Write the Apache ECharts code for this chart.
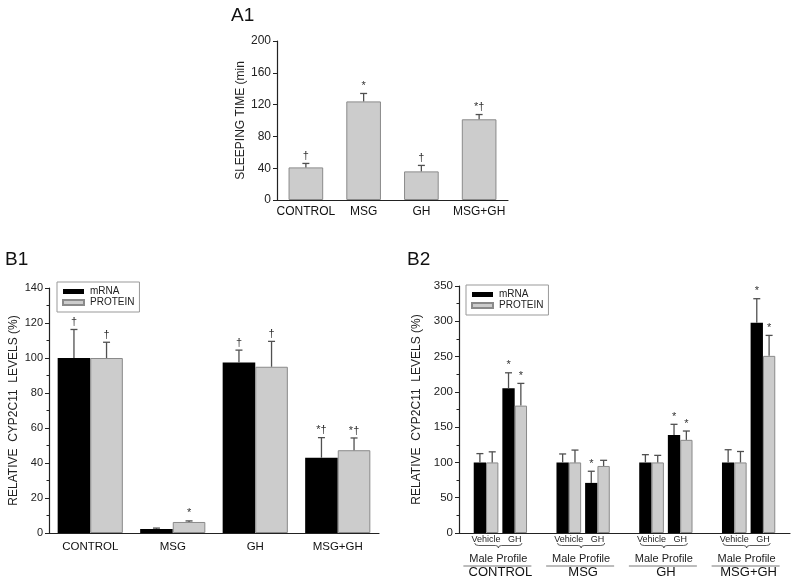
<!DOCTYPE html>
<html>
<head>
<meta charset="utf-8">
<script src="https://cdn.jsdelivr.net/npm/echarts@6/dist/echarts.min.js"></script>
<style>html,body{margin:0;padding:0;background:#fff}#c{width:795px;height:586px}</style>
</head>
<body>
<div id="c"></div>
<script>
// ---- Data ----
const groups = ['CONTROL', 'MSG', 'GH', 'MSG+GH'];

// A1: sleeping time (min)
const a1Mean = [41, 124, 36, 101.5];
const a1Sem = [5, 10, 7.5, 6];
const a1Marks = ['†', '*', '†', '*†'];
const a1Ticks = [0, 40, 80, 120, 160, 200];

// B1: relative CYP2C11 levels (%)
const b1Mrna = [100, 2.3, 97.5, 43];
const b1MrnaSem = [16.3, 0.5, 7, 11.5];
const b1MrnaMarks = ['†', '', '†', '*†'];
const b1Prot = [100, 6.3, 95, 47.3];
const b1ProtSem = [9, 0.6, 14.5, 7];
const b1ProtMarks = ['†', '*', '†', '*†'];

// B2: Male Profile, Vehicle vs GH
const b2VehMrna = [100, 100, 100, 100];
const b2VehMrnaSem = [12.5, 12, 11, 18];
const b2VehProt = [100, 100, 100, 100];
const b2VehProtSem = [15, 17.5, 10, 15.5];
const b2GhMrna = [205, 71, 139, 298];
const b2GhMrnaSem = [22, 16.5, 15, 34];
const b2GhProt = [180.5, 95, 132, 251];
const b2GhProtSem = [31.5, 8, 12.5, 29];
const b2GhMrnaMarks = ['*', '*', '*', '*'];
const b2GhProtMarks = ['*', '', '*', '*'];
const b2SubLabels = ['Vehicle', 'GH'];
const b2Profile = 'Male Profile';

// ---- Styles ----
const FONT = 'Liberation Sans, Arial, sans-serif';
const BLACK = '#000000';
const GREY = '#cccccc';
const GREY_BORDER = '#8a8a8a';
const ERR = '#505050';

const chart = echarts.init(document.getElementById('c'), null, {renderer: 'canvas'});

function errSeries(gi, means, sems, marks, offFrac) {
  return {
    type: 'custom', xAxisIndex: gi, yAxisIndex: gi, z: 5, silent: true,
    data: means.map((m, i) => [i, m, m + sems[i]]),
    renderItem: function (params, api) {
      const i = api.value(0);
      const p = api.coord([i, api.value(1)]);
      const t = api.coord([i, api.value(2)]);
      const band = api.size([1, 0])[0];
      const x = p[0] + offFrac * band;
      const cap = 3.5;
      const children = [
        {type: 'line', shape: {x1: x, y1: p[1], x2: x, y2: t[1]}, style: {stroke: ERR, lineWidth: 1.3}},
        {type: 'line', shape: {x1: x - cap, y1: t[1], x2: x + cap, y2: t[1]}, style: {stroke: ERR, lineWidth: 1.3}}
      ];
      const mk = marks[params.dataIndex];
      if (mk) {
        children.push({type: 'text', style: {text: mk, x: x, y: t[1] - 2, align: 'center', verticalAlign: 'bottom',
          fontSize: 11, fontFamily: FONT, fill: '#333'}});
      }
      return {type: 'group', children: children};
    }
  };
}

function yAx(gi, max, interval, name, gap, minor, fs) {
  return {
    type: 'value', gridIndex: gi, min: 0, max: max, interval: interval,
    name: name, nameLocation: 'middle', nameGap: gap, nameRotate: 90,
    nameTextStyle: {fontSize: 12, fontFamily: FONT, color: '#222'},
    axisLine: {show: true, lineStyle: {color: '#222', width: 1.2}},
    axisTick: {show: true, length: 4, lineStyle: {color: '#222'}},
    minorTick: {show: minor, splitNumber: 2, length: 2.5, lineStyle: {color: '#222'}},
    splitLine: {show: false},
    axisLabel: {fontSize: fs, fontFamily: FONT, color: '#222', margin: 6}
  };
}

function xAx(gi, margin, fs) {
  return {
    type: 'category', gridIndex: gi, data: groups,
    axisLine: {lineStyle: {color: '#222', width: 1.2}},
    axisTick: {show: false},
    axisLabel: {fontSize: fs, fontFamily: FONT, color: '#111', margin: margin, interval: 0}
  };
}

const greyStyle = {color: GREY, borderColor: GREY_BORDER, borderWidth: 1};
const blackStyle = {color: BLACK};

const b1W = 0.395;
const b2W = 0.149, b2S = 0.048;
const b2Half = (4 * b2W + b2S) / 2;
const b2Off = [-b2Half + b2W / 2, -b2Half + 1.5 * b2W, -b2Half + 2.5 * b2W + b2S, -b2Half + 3.5 * b2W + b2S];

function legendAt(left, top) {
  return {
    left: left, top: top, orient: 'vertical', data: ['mRNA', 'PROTEIN'], icon: 'rect',
    itemWidth: 21, itemHeight: 5, itemGap: 0, selectedMode: false,
    borderColor: '#999', borderWidth: 1, padding: [4, 5, 4, 5],
    textStyle: {fontSize: 10, lineHeight: 11, fontFamily: FONT, color: '#222', padding: [0, 0, 0, 1]}
  };
}

const option = {
  animation: false,
  backgroundColor: '#fff',
  textStyle: {fontFamily: FONT},
  title: [
    {text: 'A1', left: 231, top: 6, padding: 0, textStyle: {fontSize: 19, fontWeight: 'normal', color: '#111', fontFamily: FONT}},
    {text: 'B1', left: 5, top: 250, padding: 0, textStyle: {fontSize: 19, fontWeight: 'normal', color: '#111', fontFamily: FONT}},
    {text: 'B2', left: 407, top: 250, padding: 0, textStyle: {fontSize: 19, fontWeight: 'normal', color: '#111', fontFamily: FONT}}
  ],
  legend: [legendAt(57, 282), legendAt(466, 285)],
  grid: [
    {left: 277, top: 41, width: 231, height: 159, containLabel: false},
    {left: 49, top: 288, width: 330, height: 245, containLabel: false},
    {left: 459, top: 286, width: 331, height: 247, containLabel: false}
  ],
  xAxis: [xAx(0, 6, 12), xAx(1, 8, 11.5), xAx(2, 33, 13)],
  yAxis: [
    yAx(0, 200, 40, 'SLEEPING TIME (min', 30, false, 12),
    yAx(1, 140, 20, 'RELATIVE  CYP2C11  LEVELS (%)', 29, true, 11),
    yAx(2, 350, 50, 'RELATIVE  CYP2C11  LEVELS (%)', 36, true, 11.5)
  ],
  series: [
    // A1
    {type: 'bar', name: 'Sleeping time', xAxisIndex: 0, yAxisIndex: 0, barWidth: '60%', data: a1Mean, itemStyle: greyStyle},
    errSeries(0, a1Mean, a1Sem, a1Marks, 0),
    // B1
    {type: 'bar', name: 'mRNA', xAxisIndex: 1, yAxisIndex: 1, barWidth: (b1W * 100) + '%', barGap: '0%', data: b1Mrna, itemStyle: blackStyle},
    {type: 'bar', name: 'PROTEIN', xAxisIndex: 1, yAxisIndex: 1, barWidth: (b1W * 100) + '%', barGap: '0%', data: b1Prot, itemStyle: greyStyle},
    errSeries(1, b1Mrna, b1MrnaSem, b1MrnaMarks, -b1W / 2),
    errSeries(1, b1Prot, b1ProtSem, b1ProtMarks, b1W / 2),
    // B2
    {type: 'bar', name: 'mRNA', xAxisIndex: 2, yAxisIndex: 2, barWidth: (b2W * 100) + '%', barGap: '0%', data: b2VehMrna, itemStyle: blackStyle},
    {type: 'bar', name: 'PROTEIN', xAxisIndex: 2, yAxisIndex: 2, barWidth: (b2W * 100) + '%', barGap: '0%', data: b2VehProt, itemStyle: greyStyle},
    {type: 'bar', name: 'spacer', xAxisIndex: 2, yAxisIndex: 2, barWidth: (b2S * 100) + '%', barGap: '0%', data: groups.map(() => '-'), silent: true},
    {type: 'bar', name: 'mRNA', xAxisIndex: 2, yAxisIndex: 2, barWidth: (b2W * 100) + '%', barGap: '0%', data: b2GhMrna, itemStyle: blackStyle},
    {type: 'bar', name: 'PROTEIN', xAxisIndex: 2, yAxisIndex: 2, barWidth: (b2W * 100) + '%', barGap: '0%', data: b2GhProt, itemStyle: greyStyle},
    errSeries(2, b2VehMrna, b2VehMrnaSem, ['', '', '', ''], b2Off[0]),
    errSeries(2, b2VehProt, b2VehProtSem, ['', '', '', ''], b2Off[1]),
    errSeries(2, b2GhMrna, b2GhMrnaSem, b2GhMrnaMarks, b2Off[2]),
    errSeries(2, b2GhProt, b2GhProtSem, b2GhProtMarks, b2Off[3])
  ]
};
chart.setOption(option);

// B2 sub-labels: Vehicle / GH, brace, Male Profile, rule line
const y0 = chart.convertToPixel({yAxisIndex: 2}, 0);
const c0 = chart.convertToPixel({xAxisIndex: 2}, 0);
const c1 = chart.convertToPixel({xAxisIndex: 2}, 1);
const band = c1 - c0;
const gfx = [];
const braceStyle = {stroke: '#333', lineWidth: 0.8, fill: null};
groups.forEach((g, i) => {
  const cx = chart.convertToPixel({xAxisIndex: 2}, i);
  const vx = cx + (b2Off[0] + b2Off[1]) / 2 * band;
  const gx = cx + (b2Off[2] + b2Off[3]) / 2 * band;
  gfx.push({type: 'text', style: {text: b2SubLabels[0], x: vx, y: y0 + 7, align: 'center', verticalAlign: 'middle', fontSize: 9, fontFamily: FONT, fill: '#222'}});
  gfx.push({type: 'text', style: {text: b2SubLabels[1], x: gx, y: y0 + 7, align: 'center', verticalAlign: 'middle', fontSize: 9, fontFamily: FONT, fill: '#222'}});
  const x0 = cx - b2Half * band + 1, x1 = cx + b2Half * band - 5;
  const mid = (x0 + x1) / 2;
  const ya = y0 + 10, yb = y0 + 12.5, yc = y0 + 15;
  gfx.push({type: 'bezierCurve', shape: {x1: x0, y1: ya, x2: x0 + 4, y2: yb, cpx1: x0, cpy1: yb}, style: braceStyle});
  gfx.push({type: 'line', shape: {x1: x0 + 4, y1: yb, x2: mid - 3, y2: yb}, style: braceStyle});
  gfx.push({type: 'bezierCurve', shape: {x1: mid - 3, y1: yb, x2: mid, y2: yc, cpx1: mid, cpy1: yb}, style: braceStyle});
  gfx.push({type: 'bezierCurve', shape: {x1: mid, y1: yc, x2: mid + 3, y2: yb, cpx1: mid, cpy1: yb}, style: braceStyle});
  gfx.push({type: 'line', shape: {x1: mid + 3, y1: yb, x2: x1 - 4, y2: yb}, style: braceStyle});
  gfx.push({type: 'bezierCurve', shape: {x1: x1 - 4, y1: yb, x2: x1, y2: ya, cpx1: x1, cpy1: yb}, style: braceStyle});
  gfx.push({type: 'text', style: {text: b2Profile, x: cx - 2, y: y0 + 26, align: 'center', verticalAlign: 'middle', fontSize: 11, fontFamily: FONT, fill: '#222'}});
  gfx.push({type: 'line', shape: {x1: cx - 37, y1: y0 + 33, x2: cx + 31, y2: y0 + 33}, style: {stroke: '#555', lineWidth: 0.8}});
});
chart.setOption({graphic: gfx});
</script>
</body>
</html>
